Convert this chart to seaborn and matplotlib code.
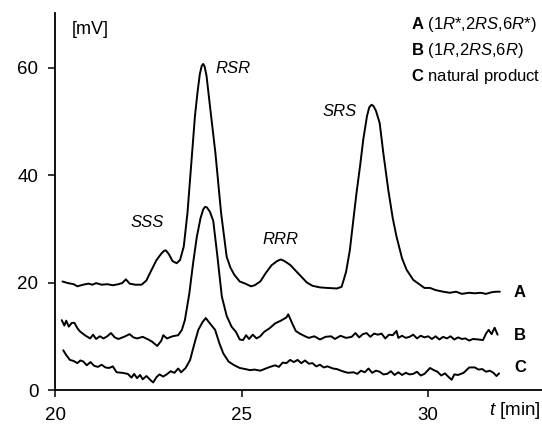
import matplotlib
matplotlib.use("Agg")
import matplotlib.pyplot as plt
import seaborn as sns

# chromatogram traces (time in min, signal in mV)
A_t = [20.2, 20.35, 20.5, 20.6, 20.75, 20.9, 21.0, 21.1, 21.25, 21.4, 21.55, 21.7, 21.8, 21.9,
       22.0, 22.15, 22.32, 22.45, 22.54, 22.72, 22.85, 22.92, 22.97, 23.05, 23.15, 23.26, 23.35,
       23.45, 23.55, 23.65, 23.75, 23.82, 23.88, 23.93, 23.97, 24.01, 24.06, 24.15, 24.3, 24.45,
       24.6, 24.7, 24.8, 24.95, 25.1, 25.25, 25.35, 25.5, 25.65, 25.8, 25.95, 26.05, 26.15,
       26.3, 26.45, 26.6, 26.75, 26.9, 27.1, 27.3, 27.55, 27.68, 27.8, 27.9, 28.0, 28.08,
       28.18, 28.26, 28.36, 28.42, 28.48, 28.53, 28.6, 28.7, 28.8, 28.93, 29.05, 29.15, 29.3,
       29.42, 29.6, 29.78, 29.9, 30.05, 30.2, 30.4, 30.58, 30.75, 30.9, 31.1, 31.25, 31.4,
       31.55, 31.7, 31.82, 31.92]
A_v = [20.2, 19.9, 19.7, 19.3, 19.6, 19.8, 19.6, 19.9, 19.6, 19.7, 19.5, 19.7, 19.9, 20.6,
       19.8, 19.6, 19.6, 20.4, 21.7, 24.2, 25.4, 25.9, 26.0, 25.3, 24.0, 23.6, 24.2,
       26.7, 33.0, 42.0, 51.0, 55.5, 58.8, 60.3, 60.7, 60.2, 58.5, 53.0, 44.0, 33.0,
       24.8, 22.8, 21.5, 20.2, 19.8, 19.3, 19.5, 20.2, 21.8, 23.2, 24.0, 24.3, 24.0,
       23.3, 22.2, 21.1, 20.0, 19.4, 19.1, 19.0, 18.9, 19.2, 22.0, 26.0, 32.0, 36.7,
       42.0, 46.6, 51.0, 52.6, 53.1, 52.9, 52.0, 49.7, 44.0, 37.3, 32.0, 28.6, 24.5,
       22.4, 20.5, 19.6, 19.0, 19.0, 18.6, 18.3, 18.1, 18.3, 17.9, 18.1, 18.0, 18.1,
       17.9, 18.2, 18.3, 18.3]

B_t = [20.18, 20.25, 20.3, 20.37, 20.45, 20.52, 20.6, 20.67, 20.8, 20.94, 21.02, 21.1, 21.2,
       21.3, 21.4, 21.5, 21.6, 21.7, 21.85, 22.0, 22.1, 22.2, 22.35, 22.5, 22.6, 22.74, 22.85,
       22.9, 23.0, 23.15, 23.3, 23.4, 23.48, 23.6, 23.7, 23.8, 23.9, 23.97, 24.02, 24.07,
       24.15, 24.24, 24.35, 24.47, 24.6, 24.73, 24.85, 24.95, 25.04, 25.12, 25.2, 25.3, 25.4,
       25.5, 25.6, 25.75, 25.9, 26.05, 26.2, 26.25, 26.35, 26.45, 26.56, 26.7, 26.8, 26.95,
       27.1, 27.25, 27.4, 27.5, 27.65, 27.8, 27.95, 28.05, 28.15, 28.25, 28.35, 28.45, 28.55,
       28.65, 28.75, 28.85, 28.95, 29.05, 29.15, 29.2, 29.3, 29.4, 29.5, 29.6, 29.7, 29.8,
       29.9, 30.0, 30.1, 30.2, 30.3, 30.4, 30.5, 30.6, 30.7, 30.8, 30.9, 31.0, 31.1, 31.2,
       31.35, 31.47, 31.55, 31.62, 31.7, 31.78, 31.86]
B_v = [13.0, 12.0, 12.9, 11.8, 12.5, 12.5, 11.5, 10.9, 10.2, 9.6, 10.3, 9.5, 10.0,
       9.6, 10.0, 10.6, 9.8, 9.5, 9.9, 10.4, 9.8, 9.6, 9.9, 9.4, 9.0, 8.2, 9.2,
       10.2, 9.6, 10.0, 10.2, 11.2, 13.0, 18.0, 23.6, 28.5, 32.0, 33.6, 34.1, 34.0,
       33.2, 31.5, 25.0, 17.4, 13.8, 11.8, 10.8, 9.4, 9.3, 10.2, 9.5, 10.3, 9.6,
       10.0, 10.8, 11.5, 12.4, 12.9, 13.5, 14.1, 12.5, 11.0, 10.5, 10.0, 9.7, 10.0,
       9.4, 9.9, 10.0, 9.5, 10.1, 9.7, 9.9, 10.6, 9.8, 10.4, 10.6, 9.9, 10.5,
       10.3, 10.5, 9.6, 10.3, 10.2, 11.0, 9.7, 10.1, 9.7, 9.9, 10.3, 9.6, 10.1,
       9.8, 10.0, 9.5, 10.0, 9.4, 9.9, 9.6, 10.0, 9.4, 9.8, 9.5, 9.6, 9.2, 9.5,
       9.4, 9.3, 10.5, 11.2, 10.4, 11.6, 10.3]

C_t = [20.22, 20.3, 20.4, 20.5, 20.6, 20.68, 20.76, 20.85, 20.95, 21.05, 21.15, 21.25, 21.35,
       21.45, 21.55, 21.65, 21.8, 21.95, 22.05, 22.12, 22.2, 22.28, 22.35, 22.45, 22.55, 22.63,
       22.72, 22.8, 22.9, 22.99, 23.1, 23.2, 23.3, 23.38, 23.5, 23.62, 23.75, 23.84, 23.95,
       24.04, 24.15, 24.29, 24.4, 24.51, 24.65, 24.78, 24.95, 25.1, 25.22, 25.35, 25.5, 25.65,
       25.76, 25.9, 26.0, 26.1, 26.2, 26.3, 26.4, 26.5, 26.6, 26.7, 26.8, 26.9, 27.0, 27.1,
       27.2, 27.3, 27.45, 27.55, 27.7, 27.85, 28.0, 28.1, 28.2, 28.3, 28.4, 28.5, 28.6, 28.7,
       28.8, 28.9, 29.0, 29.1, 29.2, 29.3, 29.4, 29.5, 29.6, 29.7, 29.8, 29.9, 30.05, 30.15,
       30.25, 30.35, 30.45, 30.55, 30.63, 30.7, 30.8, 30.95, 31.1, 31.25, 31.35, 31.45, 31.55,
       31.65, 31.75, 31.83, 31.9]
C_v = [7.4, 6.5, 5.6, 5.4, 5.0, 5.5, 5.3, 4.6, 5.2, 4.5, 4.3, 4.7, 4.2,
       4.1, 4.4, 3.3, 3.2, 3.0, 2.3, 3.0, 2.2, 2.8, 2.0, 2.6, 1.9, 1.4,
       2.4, 2.9, 2.5, 2.9, 3.5, 3.2, 4.0, 3.3, 4.1, 5.6, 9.0, 11.2, 12.6,
       13.4, 12.4, 11.2, 8.8, 6.8, 5.3, 4.7, 4.1, 3.9, 3.7, 3.8, 3.6, 4.0,
       4.3, 4.6, 4.3, 5.1, 5.0, 5.6, 5.2, 5.6, 5.0, 5.5, 4.9, 5.0, 4.4, 4.7,
       4.2, 4.4, 4.0, 3.9, 3.5, 3.2, 3.3, 3.0, 3.6, 3.3, 4.0, 3.2, 3.6, 3.4,
       2.9, 3.0, 3.5, 2.8, 3.3, 2.8, 3.2, 2.9, 3.0, 3.4, 2.7, 3.0, 4.1, 3.7,
       3.4, 2.7, 3.1, 2.4, 1.9, 2.9, 2.8, 3.2, 4.2, 4.2, 3.8, 3.9, 3.4,
       3.6, 3.2, 2.6, 3.1]

peak_names = ["SSS", "RSR", "RRR", "SRS"]
peak_label_t = [22.46, 24.77, 26.03, 27.63]
peak_label_v = [31.1, 59.8, 28.1, 51.8]

trace_names = ["A", "B", "C"]
trace_label_v = [18.1, 10.2, 4.1]

sns.set_style("ticks")
plt.rcParams["font.family"] = ["Liberation Sans", "DejaVu Sans"]
plt.rcParams["mathtext.fontset"] = "custom"
plt.rcParams["mathtext.rm"] = "Liberation Sans"
plt.rcParams["mathtext.it"] = "Liberation Sans:italic"
plt.rcParams["mathtext.bf"] = "Liberation Sans:bold"
for key in ["text.color", "axes.labelcolor", "xtick.color", "ytick.color", "axes.edgecolor"]:
    plt.rcParams[key] = "black"

fig = plt.figure(figsize=(5.42, 4.29), dpi=100)
ax = fig.add_axes([0.1015, 0.0909, 0.8985, 0.879])

for t, v in [(A_t, A_v), (B_t, B_v), (C_t, C_v)]:
    sns.lineplot(x=t, y=v, ax=ax, color="black", linewidth=1.4, sort=False)

ax.set_xlim(20, 33.05)
ax.set_ylim(0, 70.2)
ax.set_xticks([20, 25, 30])
ax.set_yticks([0, 20, 40, 60])
ax.tick_params(direction="out", length=5, width=1.1, labelsize=13.5, pad=7)
for s in ["top", "right"]:
    ax.spines[s].set_visible(False)
for s in ["left", "bottom"]:
    ax.spines[s].set_linewidth(1.3)

# peak labels
for name, t, v in zip(peak_names, peak_label_t, peak_label_v):
    ax.text(t, v, name, style="italic", fontsize=12, ha="center", va="center")

# trace letters on the right
for name, v in zip(trace_names, trace_label_v):
    ax.text(32.46, v, name, fontweight="bold", fontsize=12, ha="center", va="center")

ax.text(0.035, 0.955, "[mV]", transform=ax.transAxes, fontsize=13, ha="left", va="center")
fig.text(0.998, 0.044, r"$\mathit{t}$ [min]", fontsize=13.5, ha="right", va="center")

fig.text(0.758, 0.942, r"$\mathbf{A}$ (1$\mathit{R}$*,2$\mathit{RS}$,6$\mathit{R}$*)",
         fontsize=12, ha="left", va="center")
fig.text(0.758, 0.882, r"$\mathbf{B}$ (1$\mathit{R}$,2$\mathit{RS}$,6$\mathit{R}$)",
         fontsize=12, ha="left", va="center")
fig.text(0.758, 0.822, r"$\mathbf{C}$ natural product", fontsize=12, ha="left", va="center")

fig.savefig("out.png", dpi=100)
